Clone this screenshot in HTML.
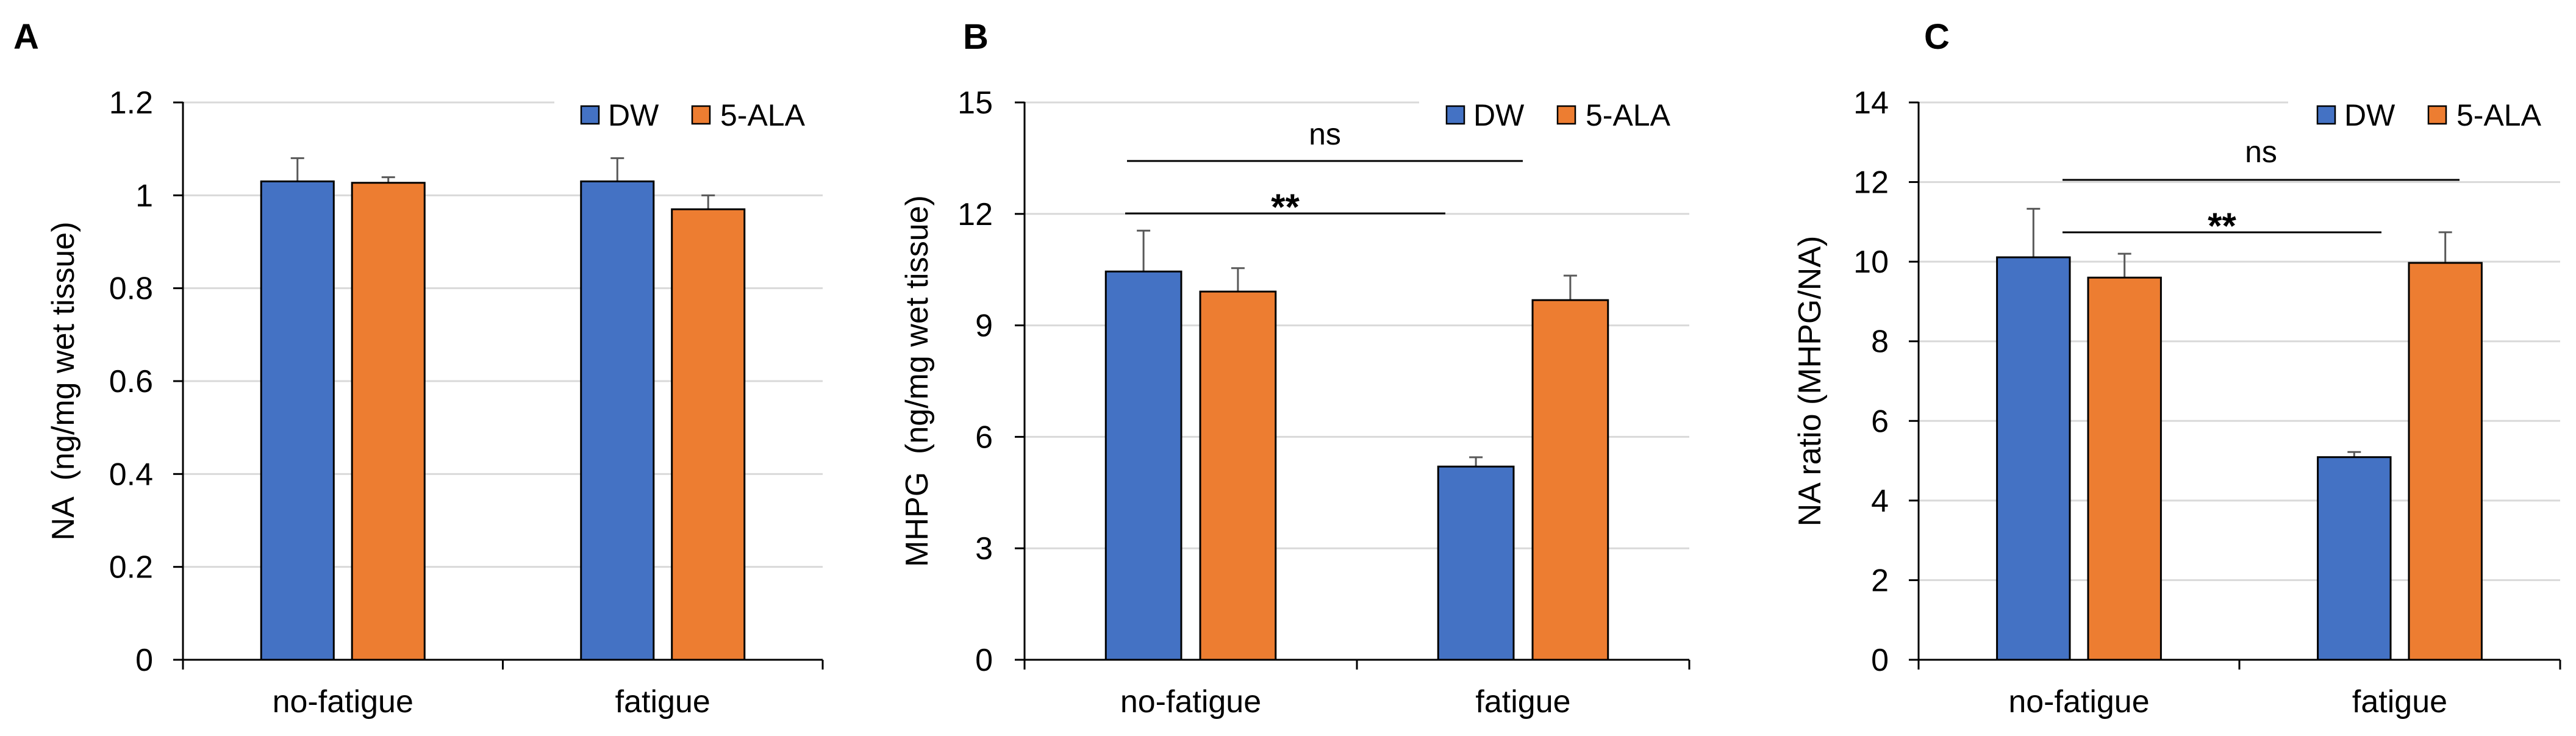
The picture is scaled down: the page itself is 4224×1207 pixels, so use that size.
<!DOCTYPE html>
<html><head><meta charset="utf-8"><style>
body{margin:0;background:#fff;}
svg{display:block;font-family:"Liberation Sans",Arial,sans-serif;}
text{white-space:pre;}
</style></head><body>
<svg id="chart" width="4224" height="1207" viewBox="0 0 4224 1207" xmlns="http://www.w3.org/2000/svg"></svg>
<script>
const categories = ["no-fatigue", "fatigue"];
const seriesNames = ["DW", "5-ALA"];
const seriesColors = ["#4472C4", "#ED7D31"];
const aDW = [1.03, 1.03];
const aALA = [1.027, 0.97];
const aDWErr = [0.05, 0.05];
const aALAErr = [0.012, 0.03];
const aTicks = ["0", "0.2", "0.4", "0.6", "0.8", "1", "1.2"];
const bDW = [10.45, 5.2];
const bALA = [9.91, 9.68];
const bDWErr = [1.1, 0.25];
const bALAErr = [0.63, 0.66];
const bTicks = ["0", "3", "6", "9", "12", "15"];
const cDW = [10.11, 5.09];
const cALA = [9.6, 9.97];
const cDWErr = [1.22, 0.13];
const cALAErr = [0.6, 0.77];
const cTicks = ["0", "2", "4", "6", "8", "10", "12", "14"];

const NS = "http://www.w3.org/2000/svg";
const svg = document.getElementById("chart");
function mk(tag, attrs, parent, text) {
  const e = document.createElementNS(NS, tag);
  for (const k in attrs) e.setAttribute(k, attrs[k]);
  if (text !== undefined) e.textContent = text;
  (parent || svg).appendChild(e);
  return e;
}

const panels = [
  {id:"a", letter:"A", letterX:22, x0:300, x1:1349, tickEnd:251, titleX:121, title:"NA  (ng/mg wet tissue)", ticks:aTicks, max:1.2,
   dw:aDW, ala:aALA, dwe:aDWErr, alae:aALAErr, gridEnd:909, legX:953, sig:[]},
  {id:"b", letter:"B", letterX:1579, x0:1680, x1:2770, tickEnd:1628, titleX:1521, title:"MHPG  (ng/mg wet tissue)", ticks:bTicks, max:15,
   dw:bDW, ala:bALA, dwe:bDWErr, alae:bALAErr, gridEnd:2327, legX:2372,
   sig:[{label:"ns", y:264, x1:1848, x2:2497, ty:219}, {label:"**", y:350, x1:1845, x2:2370, ty:338}]},
  {id:"c", letter:"C", letterX:3155, x0:3146, x1:4198, tickEnd:3097, titleX:2985, title:"NA ratio (MHPG/NA)", ticks:cTicks, max:14,
   dw:cDW, ala:cALA, dwe:cDWErr, alae:cALAErr, gridEnd:3752, legX:3800,
   sig:[{label:"ns", y:295, x1:3382, x2:4033, ty:248}, {label:"**", y:381, x1:3382, x2:3905, ty:369}]}
];
const yTop = 168, yZero = 1082;

panels.forEach(p => {
  const g = mk("g", {});
  
  
  const yS = v => yZero - (v / p.max) * (yZero - yTop);
  const letter = mk("text", {x:p.letterX, y:80, "font-size":58, "font-weight":"bold", fill:"#000"}, g, p.letter);
  
  
  p.ticks.forEach((t, i) => {
    const v = parseFloat(t);
    const y = yS(v);
    if (v > 0) {
      const gl = mk("line", {x1:p.x0, x2:(v === p.max ? p.gridEnd : p.x1), y1:y, y2:y, stroke:"#d9d9d9", "stroke-width":3}, g);
      
      
    }
    const tk = mk("line", {x1:p.x0 - 16, x2:p.x0, y1:y, y2:y, stroke:"#000", "stroke-width":3}, g);
    
    
    const tl = mk("text", {x:p.tickEnd, y:y + 18, "font-size":52, "text-anchor":"end", fill:"#000"}, g, t);
    
    
  });
  const yt = mk("text", {x:p.titleX, y:625, "font-size":52, "text-anchor":"middle", fill:"#000", transform:"rotate(-90 " + p.titleX + " 625)"}, g, p.title);
  
  
  const catW = (p.x1 - p.x0) / categories.length;
  const barW = catW * 0.227, gap = catW * 0.057;
  categories.forEach((c, i) => {
    const cx = p.x0 + catW * (i + 0.5);
    [[p.dw, p.dwe], [p.ala, p.alae]].forEach((s, si) => {
      const bx = si === 0 ? cx - gap / 2 - barW : cx + gap / 2;
      const v = s[0][i], e = s[1][i];
      const ey = yS(v + e), ty = yS(v), mx = bx + barW / 2;
      const el = mk("line", {x1:mx, x2:mx, y1:ey, y2:ty, stroke:"#595959", "stroke-width":3}, g);
      
      
      const cap = mk("line", {x1:mx - 11, x2:mx + 11, y1:ey, y2:ey, stroke:"#595959", "stroke-width":3}, g);
      
      
      const r = mk("rect", {x:bx, y:ty, width:barW, height:yZero - ty, fill:seriesColors[si], stroke:"#000", "stroke-width":3}, g);
      
      
    });
    const cl = mk("text", {x:cx, y:1168, "font-size":52, "text-anchor":"middle", fill:"#000"}, g, c);
    
    
  });
  const ya = mk("line", {x1:p.x0, x2:p.x0, y1:yTop - 1, y2:yZero, stroke:"#000", "stroke-width":3}, g);
  
  
  const xa = mk("line", {x1:p.x0 - 16, x2:p.x1, y1:yZero, y2:yZero, stroke:"#000", "stroke-width":3}, g);
  
  
  for (let i = 0; i <= categories.length; i++) {
    const x = p.x0 + catW * i;
    const xt = mk("line", {x1:x, x2:x, y1:yZero, y2:yZero + 16, stroke:"#000", "stroke-width":3}, g);
    
    
  }
  p.sig.forEach(s => {
    const sl = mk("line", {x1:s.x1, x2:s.x2, y1:s.y, y2:s.y, stroke:"#000", "stroke-width":3}, g);
    
    
    const st = mk("text", {x:(s.x1 + s.x2) / 2, y:s.ty + (s.label === "ns" ? 18 : 22), "font-size":s.label === "ns" ? 50 : 60, "font-weight":s.label === "ns" ? "normal" : "bold", "text-anchor":"middle", fill:"#000"}, g, s.label);
    
    
  });
  const l1 = mk("rect", {x:p.legX, y:174, width:29, height:29, fill:seriesColors[0], stroke:"#000", "stroke-width":2.5}, g);
  
  
  const t1 = mk("text", {x:p.legX + 44, y:206, "font-size":50, fill:"#000"}, g, "DW");
  
  
  const l2 = mk("rect", {x:p.legX + 182, y:174, width:29, height:29, fill:seriesColors[1], stroke:"#000", "stroke-width":2.5}, g);
  
  
  const t2 = mk("text", {x:p.legX + 228, y:206, "font-size":50, fill:"#000"}, g, "5-ALA");
  
  
});
</script>
</body></html>
